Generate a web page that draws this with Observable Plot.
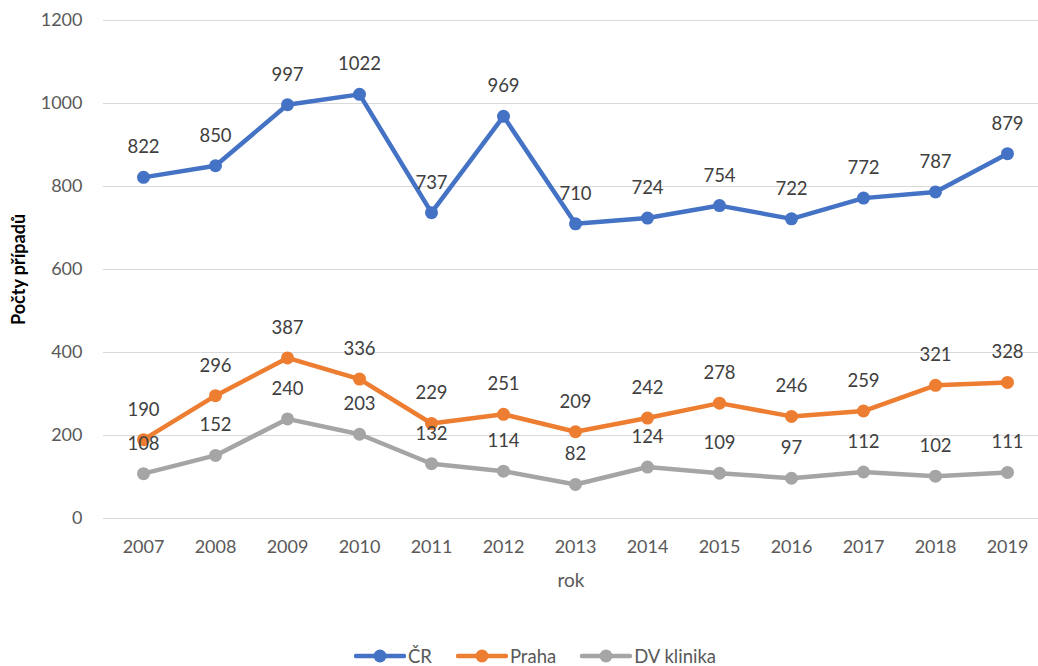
<!DOCTYPE html>
<html>
<head>
<meta charset="utf-8">
<script src="https://cdn.jsdelivr.net/npm/d3@7"></script>
<script src="https://cdn.jsdelivr.net/npm/@observablehq/plot@0.6"></script>
<style>
  html, body { margin: 0; padding: 0; background: #fff; }
  body { width: 1038px; height: 666px; overflow: hidden; font-family: Lato, "Open Sans", sans-serif; }
  #legend { display: flex; justify-content: center; gap: 24px; padding-top: 44px; padding-left: 32px; font-size: 18.5px; color: #595959; line-height: 24px; }
  #legend .item { display: flex; align-items: center; gap: 2px; }
</style>
</head>
<body>
<div id="chart"></div>
<div id="legend"></div>
<script>
const years = [2007, 2008, 2009, 2010, 2011, 2012, 2013, 2014, 2015, 2016, 2017, 2018, 2019];
const seriesNames = ["ČR", "Praha", "DV klinika"];
const seriesColors = ["#4472C4", "#ED7D31", "#A5A5A5"];
const cr = [822, 850, 997, 1022, 737, 969, 710, 724, 754, 722, 772, 787, 879];
const praha = [190, 296, 387, 336, 229, 251, 209, 242, 278, 246, 259, 321, 328];
const dvKlinika = [108, 152, 240, 203, 132, 114, 82, 124, 109, 97, 112, 102, 111];
const yTicks = [0, 200, 400, 600, 800, 1000, 1200];
const yLabel = "Počty případů";
const xLabel = "rok";

const seriesValues = [cr, praha, dvKlinika];
const data = seriesNames.flatMap((name, i) =>
  years.map((year, j) => ({series: name, year: String(year), value: seriesValues[i][j]}))
);

const chart = Plot.plot({
  width: 1038,
  height: 600,
  marginLeft: 103,
  marginRight: 0,
  marginTop: 20,
  marginBottom: 82,
  style: {fontFamily: "Lato, 'Open Sans', sans-serif", color: "#595959", background: "#fff"},
  x: {type: "point", domain: years.map(String), range: [140, 1010], padding: 0},
  y: {domain: [0, 1200]},
  color: {domain: seriesNames, range: seriesColors},
  marks: [
    Plot.gridY(yTicks, {stroke: "#d9d9d9", strokeOpacity: 1, strokeWidth: 1}),
    Plot.axisY(yTicks, {tickSize: 0, tickPadding: 21, fontSize: 18, label: null, tickFormat: d => String(d)}),
    Plot.axisX(years.map(String), {tickSize: 0, tickPadding: 22, fontSize: 18, label: null}),
    Plot.line(data, {x: "year", y: "value", z: "series", stroke: "series", strokeWidth: 4.5, strokeLinejoin: "round", strokeLinecap: "round"}),
    Plot.dot(data, {x: "year", y: "value", fill: "series", r: 6.5, stroke: null}),
    Plot.text(data, {x: "year", y: "value", text: d => String(d.value), dy: -30, fontSize: 18.5, fill: "#404040"}),
    Plot.text([yLabel], {frameAnchor: "left", textAnchor: "middle", rotate: -90, dx: -84, fontSize: 18, fontWeight: "bold", fill: "#000"}),
    Plot.text([xLabel], {frameAnchor: "bottom", dy: 68, fontSize: 19, fill: "#595959"})
  ]
});
document.getElementById("chart").appendChild(chart);

const legend = document.getElementById("legend");
seriesNames.forEach((name, i) => {
  const item = document.createElement("div");
  item.className = "item";
  const svgNS = "http://www.w3.org/2000/svg";
  const svg = document.createElementNS(svgNS, "svg");
  svg.setAttribute("width", "52");
  svg.setAttribute("height", "16");
  const line = document.createElementNS(svgNS, "line");
  line.setAttribute("x1", "2"); line.setAttribute("x2", "50");
  line.setAttribute("y1", "8"); line.setAttribute("y2", "8");
  line.setAttribute("stroke", seriesColors[i]);
  line.setAttribute("stroke-width", "4.5");
  line.setAttribute("stroke-linecap", "round");
  const dot = document.createElementNS(svgNS, "circle");
  dot.setAttribute("cx", "26"); dot.setAttribute("cy", "8"); dot.setAttribute("r", "6.5");
  dot.setAttribute("fill", seriesColors[i]);
  svg.appendChild(line); svg.appendChild(dot);
  const label = document.createElement("span");
  label.textContent = name;
  item.appendChild(svg); item.appendChild(label);
  legend.appendChild(item);
});
</script>
</body>
</html>
